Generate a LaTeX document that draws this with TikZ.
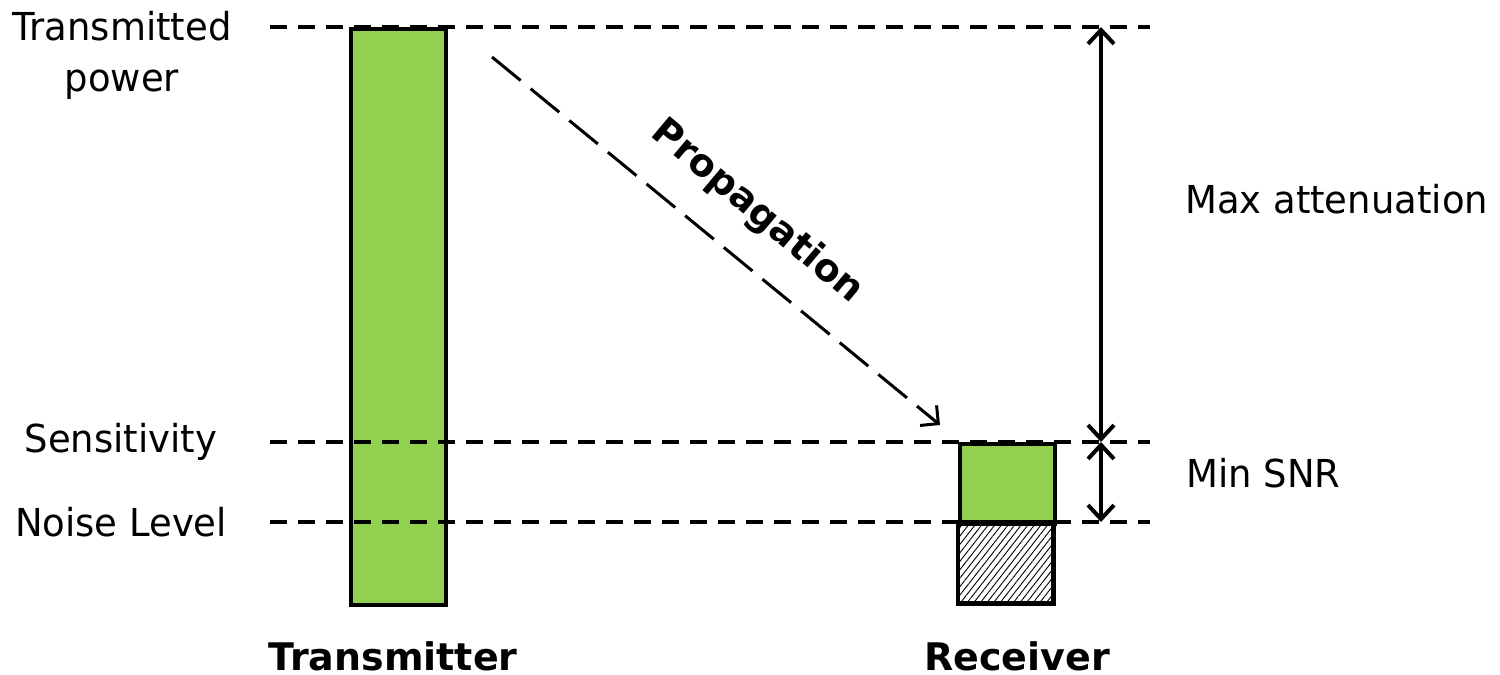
\documentclass[tikz,border=0pt]{standalone}
\usepackage{fontspec}
\setmainfont{DejaVu Sans}
\newfontfamily\regf{DejaVu Sans}[FakeStretch=0.96]
\usetikzlibrary{arrows.meta,patterns.meta}
\definecolor{barg}{HTML}{92D050}
\begin{document}
\begin{tikzpicture}[x=1pt,y=-1pt,
  lbl/.style={font=\regf\fontsize{38.5}{51}\selectfont, inner sep=0pt, anchor=base},
  blbl/.style={font=\bfseries\fontsize{38}{43}\selectfont, inner sep=0pt, anchor=base},
  level/.style={line width=4pt, dash pattern=on 17pt off 11pt},
  bar/.style={draw, line width=4pt, inner sep=0pt, anchor=north west},
  dim/.style={line width=4pt, {Straight Barb[length=14pt,width=26pt]}-{Straight Barb[length=14pt,width=26pt]}},
  prop/.style={line width=3pt, dash pattern=on 37pt off 13pt, -{Straight Barb[length=13pt,width=26pt]}}
]
\useasboundingbox (0,0) rectangle (1500,675);
% bars
\node[bar, fill=barg, minimum width=95pt, minimum height=576pt] (tx) at (349,27) {};
\node[bar, fill=barg, minimum width=95pt, minimum height=80pt] (rxs) at (958,442) {};
\node[bar, pattern={Lines[angle=52,distance=5.2pt,line width=0.9pt]}, minimum width=95pt, minimum height=81pt] (rxn) at (958,522) {};
\draw[line width=4pt] (rxn.north west) rectangle (rxn.south east);
% level lines
\coordinate (tpL) at (270,27);  \coordinate (tpR) at (1150,27);
\coordinate (seL) at (270,442); \coordinate (seR) at (1150,442);
\coordinate (noL) at (270,522); \coordinate (noR) at (1150,522);
\draw[level] (tpL) -- (tpR);
\draw[level] (seL) -- (seR);
\draw[level] (noL) -- (noR);
% dimension arrows
\coordinate (maT) at (1101,27); \coordinate (maB) at (1101,442);
\coordinate (snB) at (1101,522);
\draw[dim] (maT) -- (maB);
\draw[dim] (maB) -- (snB);
% propagation
\coordinate (pS) at (492,57); \coordinate (pE) at (940,425);
\draw[prop] (pS) -- (pE);
\node[rotate=-40, font=\bfseries\fontsize{38}{43}\selectfont, inner sep=0pt] (proptext) at (757,212) {Propagation};
% labels
\node[lbl, align=center] (ltp) at (122,91) {Transmitted\\power};
\node[lbl] (lse) at (121,452) {Sensitivity};
\node[lbl] (lno) at (121,536) {Noise Level};
\node[lbl, anchor=base west] (lma) at (1185,213) {Max attenuation};
\node[lbl, anchor=base west] (lsn) at (1186,487) {Min SNR};
\node[blbl] (ltx) at (393,670) {Transmitter};
\node[blbl] (lrx) at (1017,670) {Receiver};
\end{tikzpicture}
\end{document}
